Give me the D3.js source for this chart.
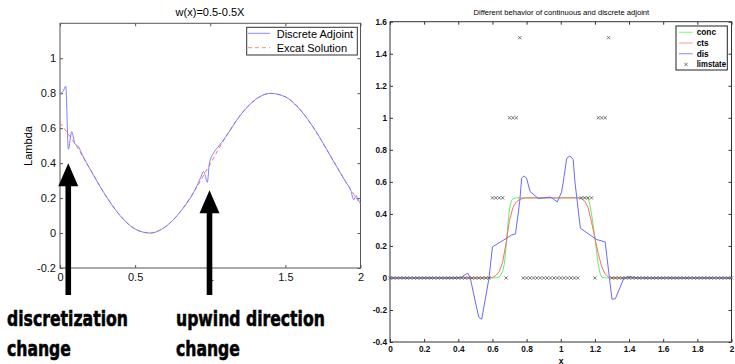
<!DOCTYPE html>
<html>
<head>
<meta charset="utf-8">
<script src="https://cdn.jsdelivr.net/npm/d3@7"></script>
<style>
  body { margin: 0; background: #fff; }
  svg { display: block; }
</style>
</head>
<body>
<svg id="chart" width="735" height="364"></svg>
<script>
// ---------- left panel data
const exactX = [0, 0.1, 0.2, 0.3, 0.4, 0.5, 0.6, 0.7, 0.8, 0.9, 1.0, 1.1, 1.2, 1.3, 1.4, 1.5, 1.6, 1.7, 1.8, 1.9, 2.0];
const exactY = [0.63, 0.51, 0.366, 0.22, 0.10, 0.023, 0.0, 0.035, 0.121, 0.248, 0.396, 0.546, 0.674, 0.763, 0.799, 0.779, 0.704, 0.586, 0.441, 0.295, 0.165];

const discX = [0, 0.02, 0.038, 0.056, 0.078, 0.10, 0.12, 0.15, 0.2, 0.3, 0.4, 0.5, 0.6, 0.7, 0.8, 0.9, 0.935, 0.955, 0.965, 0.98, 0.995, 1.022, 1.05, 1.1, 1.2, 1.3, 1.4, 1.5, 1.6, 1.7, 1.8, 1.9, 1.935, 1.955, 1.97, 1.985, 2.0];
const discY = [0.80, 0.81, 0.84, 0.48, 0.58, 0.51, 0.497, 0.445, 0.366, 0.22, 0.10, 0.023, 0.0, 0.035, 0.121, 0.25, 0.315, 0.352, 0.335, 0.29, 0.40, 0.458, 0.49, 0.546, 0.674, 0.763, 0.799, 0.779, 0.704, 0.586, 0.441, 0.295, 0.245, 0.19, 0.215, 0.19, 0.17];

const leftXTicks = [0, 0.5, 1, 1.5, 2];
const leftYTicks = [-0.2, 0, 0.2, 0.4, 0.6, 0.8, 1];
const leftLegend = ["Discrete Adjoint", "Excat Solution"];

// arrows: x position and tip value (data units)
const arrowX = [0.055, 0.995];
const arrowTip = [0.40, 0.245];
const notes = [["discretization", "change"], ["upwind direction", "change"]];

// ---------- right panel data
const concX = [0, 0.62, 0.64, 0.66, 0.67, 0.68, 0.69, 0.70, 0.71, 0.72, 0.74, 1.16, 1.17, 1.18, 1.19, 1.20, 1.21, 1.22, 1.23, 1.24, 1.26, 2];
const concY = [0, 0, 0.005, 0.04, 0.09, 0.19, 0.33, 0.43, 0.48, 0.495, 0.5, 0.5, 0.46, 0.40, 0.33, 0.25, 0.16, 0.08, 0.03, 0.005, 0, 0];

const ctsX = [0, 0.58, 0.60, 0.62, 0.64, 0.66, 0.68, 0.70, 0.72, 0.74, 0.76, 0.78, 0.80, 1.10, 1.12, 1.14, 1.16, 1.18, 1.20, 1.22, 1.24, 1.26, 1.28, 1.30, 2];
const ctsY = [0, 0, 0.003, 0.015, 0.04, 0.1, 0.22, 0.36, 0.44, 0.475, 0.49, 0.497, 0.5, 0.5, 0.495, 0.48, 0.44, 0.35, 0.25, 0.15, 0.07, 0.025, 0.005, 0, 0];

const disX = [0, 0.40, 0.42, 0.44, 0.455, 0.47, 0.50, 0.52, 0.537, 0.58, 0.60, 0.68, 0.71, 0.735, 0.76, 0.771, 0.785, 0.80, 0.82, 0.87, 0.90, 0.94, 0.98, 1.005, 1.015, 1.035, 1.054, 1.073, 1.083, 1.115, 1.21, 1.26, 1.30, 1.32, 1.37, 1.40, 1.45, 2];
const disY = [0, 0, 0.005, 0.02, 0.03, 0.0, -0.15, -0.245, -0.258, 0.0, 0.194, 0.246, 0.267, 0.275, 0.48, 0.623, 0.637, 0.623, 0.54, 0.495, 0.5, 0.505, 0.475, 0.537, 0.6, 0.748, 0.762, 0.74, 0.6, 0.31, 0.24, 0.225, -0.133, -0.13, 0, 0.008, 0, 0];

const limX = [0, 0.02, 0.04, 0.06, 0.08, 0.10, 0.12, 0.14, 0.16, 0.18, 0.20, 0.22, 0.24, 0.26, 0.28, 0.30, 0.32, 0.34, 0.36, 0.38, 0.40, 0.42, 0.44, 0.46, 0.48, 0.50, 0.52, 0.54, 0.56, 0.58,
  0.60, 0.62, 0.64, 0.66, 0.68, 0.70, 0.72, 0.74, 0.76,
  0.78, 0.80, 0.82, 0.84, 0.86, 0.88, 0.90, 0.92, 0.94, 0.96, 0.98, 1.00, 1.02, 1.04, 1.06, 1.08, 1.10,
  1.12, 1.14, 1.16, 1.18, 1.20, 1.22, 1.24, 1.26, 1.28,
  1.30, 1.32, 1.34, 1.36, 1.38, 1.40, 1.42, 1.44, 1.46, 1.48, 1.50, 1.52, 1.54, 1.56, 1.58, 1.60, 1.62, 1.64, 1.66, 1.68, 1.70, 1.72, 1.74, 1.76, 1.78, 1.80, 1.82, 1.84, 1.86, 1.88, 1.90, 1.92, 1.94, 1.96, 1.98, 2.00];
const limY = [0, 0, 0, 0, 0, 0, 0, 0, 0, 0, 0, 0, 0, 0, 0, 0, 0, 0, 0, 0, 0, 0, 0, 0, 0, 0, 0, 0, 0, 0,
  0.5, 0.5, 0.5, 0.5, 0, 1, 1, 1, 1.5,
  0, 0, 0, 0, 0, 0, 0, 0, 0, 0, 0, 0, 0, 0, 0, 0, 0,
  0.5, 0.5, 0.5, 0.5, 0, 1, 1, 1, 1.5,
  0, 0, 0, 0, 0, 0, 0, 0, 0, 0, 0, 0, 0, 0, 0, 0, 0, 0, 0, 0, 0, 0, 0, 0, 0, 0, 0, 0, 0, 0, 0, 0, 0, 0, 0, 0];

const rightXTicks = [0, 0.2, 0.4, 0.6, 0.8, 1, 1.2, 1.4, 1.6, 1.8, 2];
const rightYTicks = [-0.4, -0.2, 0, 0.2, 0.4, 0.6, 0.8, 1, 1.2, 1.4, 1.6];
const rightLegend = ["conc", "cts", "dis", "limstate"];
const rightColors = ["#66ee66", "#ff6a6a", "#6a6aff", "#555"];
const legendColors = ["#88ff88", "#ffaaaa", "#9a9aff"];

const fmt = v => String(+v.toFixed(1));
const svg = d3.select("#chart");

// squeeze a text horizontally to a given width (keeps the bbox honest)
function fitText(t, x, y, width) {
  const w = t.node().getComputedTextLength();
  t.attr("x", null).attr("y", null)
    .attr("transform", "translate(" + x + "," + y + ") scale(" + (width / w) + ",1)");
}

// ================= left panel
const lx = d3.scaleLinear().domain([0, 2]).range([60, 360.5]);
const ly = d3.scaleLinear().domain([-0.2, 1.2]).range([268, 23.3]);
const left = svg.append("g").attr("font-family", "Liberation Sans, Arial, sans-serif");

function styleAxis(g, size, color, weight) {
  g.select(".domain").remove();
  g.selectAll(".tick line").attr("stroke", color);
  g.selectAll(".tick text").attr("font-size", size).attr("font-weight", weight || "normal")
    .attr("font-family", "Liberation Sans, Arial, sans-serif").attr("fill", "#111");
  g.attr("font-family", null).attr("font-size", null);
}

left.append("g").attr("transform", "translate(0,268)")
  .call(d3.axisBottom(lx).tickValues(leftXTicks).tickFormat(fmt).tickSize(-3).tickPadding(5))
  .call(g => styleAxis(g, 11, "#555"));
left.append("g").attr("transform", "translate(0,23.3)")
  .call(d3.axisTop(lx).tickValues(leftXTicks).tickFormat("").tickSize(-3))
  .call(g => styleAxis(g, 11, "#555"));
left.append("g").attr("transform", "translate(60,0)")
  .call(d3.axisLeft(ly).tickValues(leftYTicks).tickFormat(fmt).tickSize(-3).tickPadding(4))
  .call(g => styleAxis(g, 11, "#555"));
left.append("g").attr("transform", "translate(360.5,0)")
  .call(d3.axisRight(ly).tickValues(leftYTicks).tickFormat("").tickSize(-3))
  .call(g => styleAxis(g, 11, "#555"));

left.append("rect").attr("x", 60).attr("y", 23.3).attr("width", 300.5).attr("height", 244.7)
  .attr("fill", "none").attr("stroke", "#555").attr("stroke-width", 1);

const lineL = d3.line().curve(d3.curveMonotoneX);
left.append("path")
  .attr("d", lineL(exactX.map((x, i) => [lx(x), ly(exactY[i])])))
  .attr("fill", "none").attr("stroke", "#ff7070").attr("stroke-width", 1).attr("stroke-dasharray", "4,3");
left.append("path")
  .attr("d", lineL(discX.map((x, i) => [lx(x), ly(discY[i])])))
  .attr("fill", "none").attr("stroke", "#7272ff").attr("stroke-width", 1).attr("opacity", 0.9);

left.append("text").attr("x", 210).attr("y", 16).attr("text-anchor", "middle")
  .attr("font-size", 11).text("w(x)=0.5-0.5X");
left.append("text").attr("transform", "translate(31.5,146) rotate(-90)")
  .attr("text-anchor", "middle").attr("font-size", 11).text("Lambda");

// legend
const lleg = left.append("g");
lleg.append("rect").attr("x", 246.7).attr("y", 27.3).attr("width", 110.6).attr("height", 27.7)
  .attr("fill", "#fff").attr("stroke", "#333");
leftLegend.forEach((name, i) => {
  const yy = 33.3 + i * 14.4;
  lleg.append("line").attr("x1", 248).attr("x2", 270).attr("y1", yy).attr("y2", yy)
    .attr("stroke", i === 0 ? "#8a8aff" : "#ff8a8a")
    .attr("stroke-dasharray", i === 0 ? null : "4,3");
  lleg.append("text").attr("x", 276.7).attr("y", yy + 4.5).attr("font-size", 11).text(name);
});

// arrows + notes
arrowX.forEach((ax, i) => {
  const cx = lx(ax), tip = ly(arrowTip[i]), base = tip + 23, bottom = 295;
  const p = d3.path();
  p.moveTo(cx, tip);
  p.lineTo(cx + 10, base);
  p.lineTo(cx + 2.8, base);
  p.lineTo(cx + 2.8, bottom);
  p.lineTo(cx - 2.8, bottom);
  p.lineTo(cx - 2.8, base);
  p.lineTo(cx - 10, base);
  p.closePath();
  left.append("path").attr("d", p.toString()).attr("fill", "#000");
});

const noteX = [7, 176];
const noteW = [[121, 64], [149, 64]];
notes.forEach((lines, i) => {
  lines.forEach((t, j) => {
    const txt = svg.append("text")
      .attr("font-family", "DejaVu Sans, sans-serif").attr("font-weight", "bold")
      .attr("font-size", 22).attr("fill", "#000")
      .attr("stroke", "#000").attr("stroke-width", 0.6)
      .text(t);
    fitText(txt, noteX[i], 326 + j * 29.5, noteW[i][j]);
  });
});

// ================= right panel
const rx = d3.scaleLinear().domain([0, 2]).range([390, 731.5]);
const ry = d3.scaleLinear().domain([-0.4, 1.6]).range([342, 21.7]);
const right = svg.append("g").attr("font-family", "Liberation Sans, Arial, sans-serif");

right.append("g").attr("transform", "translate(0,342)")
  .call(d3.axisBottom(rx).tickValues(rightXTicks).tickFormat(fmt).tickSize(-3).tickPadding(4))
  .call(g => styleAxis(g, 8.3, "#333", "bold"));
right.append("g").attr("transform", "translate(0,21.7)")
  .call(d3.axisTop(rx).tickValues(rightXTicks).tickFormat("").tickSize(-3))
  .call(g => styleAxis(g, 8.3, "#333"));
right.append("g").attr("transform", "translate(390,0)")
  .call(d3.axisLeft(ry).tickValues(rightYTicks).tickFormat(fmt).tickSize(-3).tickPadding(3))
  .call(g => styleAxis(g, 8.3, "#333", "bold"));
right.append("g").attr("transform", "translate(731.5,0)")
  .call(d3.axisRight(ry).tickValues(rightYTicks).tickFormat("").tickSize(-3))
  .call(g => styleAxis(g, 8.3, "#333"));

right.append("rect").attr("x", 390).attr("y", 21.7).attr("width", 341.5).attr("height", 320.3)
  .attr("fill", "none").attr("stroke", "#333").attr("stroke-width", 1);

const lineR = d3.line();
[[concX, concY], [ctsX, ctsY], [disX, disY]].forEach(([xs, ys], k) => {
  right.append("path")
    .attr("d", lineR(xs.map((x, i) => [rx(x), ry(ys[i])])))
    .attr("fill", "none").attr("stroke", rightColors[k]).attr("stroke-width", 1);
});

right.selectAll("path.lim").data(limX).enter().append("path")
  .attr("class", "lim")
  .attr("transform", (d, i) => "translate(" + rx(d) + "," + ry(limY[i]) + ")")
  .attr("d", "M-1.6,-1.6L1.6,1.6M-1.6,1.6L1.6,-1.6")
  .attr("stroke", rightColors[3]).attr("stroke-width", 0.8).attr("fill", "none");

const rtitle = right.append("text").attr("font-size", 7.8)
  .text("Different behavior of continuous and discrete adjoint");
fitText(rtitle, 473.5, 14.5, 176);
right.append("text").attr("x", 561).attr("y", 363.5).attr("text-anchor", "middle")
  .attr("font-size", 8.5).attr("font-weight", "bold").text("x");

// legend
const rleg = right.append("g");
rleg.append("rect").attr("x", 676).attr("y", 26).attr("width", 51.3).attr("height", 44)
  .attr("fill", "#fff").attr("stroke", "#222");
rightLegend.forEach((name, i) => {
  const yy = 32.3 + i * 10.7;
  if (i < 3) {
    rleg.append("line").attr("x1", 679).attr("x2", 692.7).attr("y1", yy).attr("y2", yy)
      .attr("stroke", legendColors[i]).attr("stroke-width", 1.2);
  } else {
    rleg.append("path").attr("transform", "translate(686," + yy + ")")
      .attr("d", "M-1.6,-1.6L1.6,1.6M-1.6,1.6L1.6,-1.6")
      .attr("stroke", rightColors[3]).attr("stroke-width", 0.8);
  }
  const t = rleg.append("text").attr("font-size", 8.3).attr("font-weight", "bold").text(name);
  if (i === 3) fitText(t, 696.7, yy + 3, 29.3);
  else t.attr("x", 696.7).attr("y", yy + 3);
});
</script>
</body>
</html>
